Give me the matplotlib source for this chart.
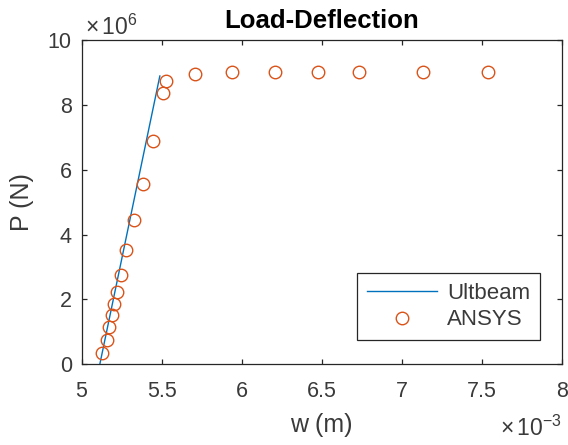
import matplotlib.pyplot as plt
import numpy as np
from matplotlib.ticker import FuncFormatter

plt.rcParams['font.family'] = ['Liberation Sans', 'DejaVu Sans']
plt.rcParams['mathtext.fontset'] = 'custom'
plt.rcParams['mathtext.rm'] = 'Liberation Sans'
plt.rcParams['mathtext.it'] = 'Liberation Sans:italic'

# Ultbeam line (w in m, P in N)
wUlt = [5.114e-3, 5.489e-3]
pUlt = [0.0, 8.88e6]

# ANSYS points
wAnsys = [5.130e-3, 5.161e-3, 5.172e-3, 5.193e-3, 5.203e-3, 5.224e-3, 5.245e-3,
          5.276e-3, 5.328e-3, 5.384e-3, 5.447e-3, 5.509e-3, 5.530e-3, 5.709e-3,
          5.939e-3, 6.209e-3, 6.474e-3, 6.734e-3, 7.134e-3, 7.536e-3]
pAnsys = [0.35e6, 0.74e6, 1.14e6, 1.51e6, 1.85e6, 2.22e6, 2.76e6,
          3.53e6, 4.46e6, 5.56e6, 6.87e6, 8.35e6, 8.72e6, 8.95e6,
          9.00e6, 9.00e6, 9.00e6, 9.00e6, 9.00e6, 9.00e6]

xTicks = [5e-3, 5.5e-3, 6e-3, 6.5e-3, 7e-3, 7.5e-3, 8e-3]
yTicks = [0, 2e6, 4e6, 6e6, 8e6, 10e6]

axCol = '#262626'
txtCol = '#3a3a3a'

fig = plt.figure(figsize=(5.68, 4.45), dpi=100)
ax = fig.add_axes([0.1435, 0.181, 0.846, 0.730])

ax.plot(wUlt, pUlt, color='#0072BD', lw=1.0, label='Ultbeam')
ax.plot(wAnsys, pAnsys, 'o', mfc='none', mec='#D95319', ms=9, mew=1.0,
        label='ANSYS')

ax.set_xlim(5e-3, 8e-3)
ax.set_ylim(0, 10e6)
ax.set_xticks(xTicks)
ax.set_yticks(yTicks)
ax.xaxis.set_major_formatter(FuncFormatter(lambda v, p: '%g' % (v * 1e3)))
ax.yaxis.set_major_formatter(FuncFormatter(lambda v, p: '%g' % (v / 1e6)))

ax.tick_params(direction='in', top=True, right=True, labelsize=15.5,
               colors=axCol, labelcolor=txtCol, length=3.5, width=0.9)
ax.tick_params(axis='x', pad=12)
ax.tick_params(axis='y', pad=7)
for s in ax.spines.values():
    s.set_color(axCol)
    s.set_linewidth(0.9)

ax.text(0.5, 1.0354, 'Load-Deflection', transform=ax.transAxes, fontsize=18.5,
        fontweight='bold', ha='center', va='baseline', color='black')
ax.set_xlabel('w (m)', fontsize=18, color=txtCol, va='center')
ax.xaxis.set_label_coords(0.5, -0.185)
ax.set_ylabel('P (N)', fontsize=18, color=txtCol, va='center')
ax.yaxis.set_label_coords(-0.1245, 0.5)

ax.text(0.007, 1.0139, r'$\times\,10^{6}$', transform=ax.transAxes, fontsize=16.5,
        color=txtCol, ha='left', va='baseline')
ax.text(1.0, -0.219, r'$\times\,10^{-3}$', transform=ax.transAxes, fontsize=16.5,
        color=txtCol, ha='right', va='baseline')

leg = ax.legend(loc='lower right', bbox_to_anchor=(0.954, 0.074), borderaxespad=0,
                fontsize=16, fancybox=False, framealpha=1, edgecolor=axCol,
                borderpad=0.45, handlelength=3.15, handletextpad=0.45,
                labelspacing=0.26)
for t in leg.get_texts():
    t.set_color(txtCol)
leg.get_frame().set_linewidth(0.9)

fig.savefig('out.png', dpi=100)
